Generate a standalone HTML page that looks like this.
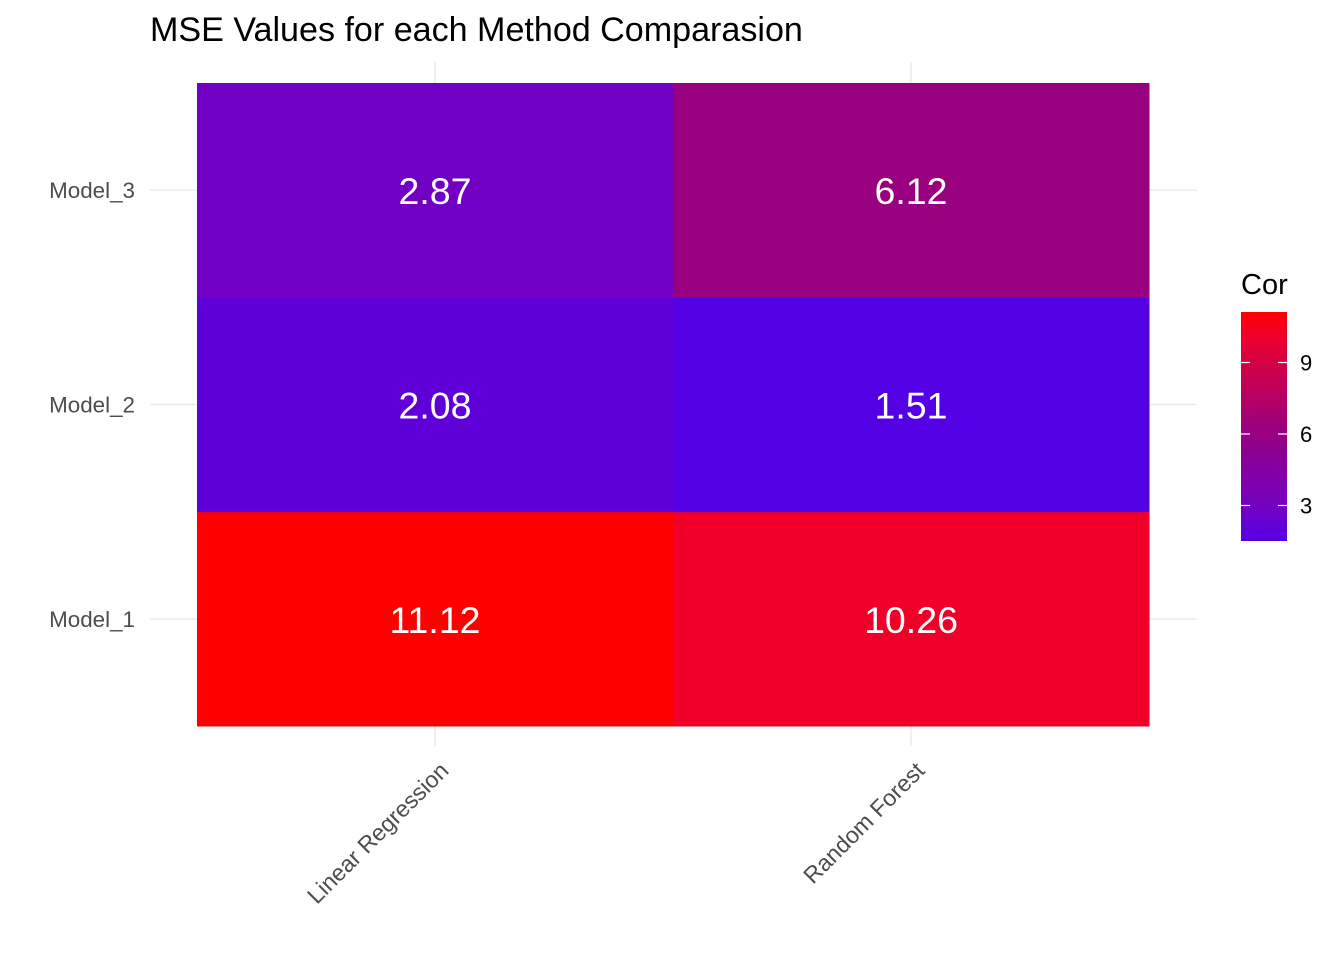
<!DOCTYPE html>
<html><head><meta charset="utf-8"><style>
body{margin:0;background:#fff;}
svg{display:block;font-family:"Liberation Sans",Arial,sans-serif;}
</style></head><body>
<svg id="chart" width="1344" height="960">
<text x="150" y="41" font-size="34.1" fill="#000">MSE Values for each Method Comparasion</text>
<g id="grid"></g><g id="cells"></g><g id="labels"></g><g id="axes"></g>
<defs><linearGradient id="cbar" x1="0" y1="1" x2="0" y2="0"></linearGradient></defs>
<g id="legend"></g>
</svg>
<script>
const methods=["Linear Regression","Random Forest"];
const models=["Model_1","Model_2","Model_3"];
const values=[[11.12,10.26],[2.08,1.51],[2.87,6.12]]; // values[model][method]
const legendTicks=[3,6,9];
const NS="http://www.w3.org/2000/svg";
function mk(tag,attrs,parent){const e=document.createElementNS(NS,tag);for(const k in attrs)e.setAttribute(k,attrs[k]);parent.appendChild(e);return e;}
const px0=197,px1=1149,py0=83,py1=726;
const cw=(px1-px0)/methods.length, ch=(py1-py0)/models.length;
const xc=i=>px0+cw*(i+0.5);
const yc=j=>py1-ch*(j+0.5);
const all=values.flat();const vmin=Math.min(...all),vmax=Math.max(...all);
// colour scale stops (normalised position -> rgb)
const scaleStops=[[0,[84,0,228]],[0.06,[96,0,216]],[0.14,[114,0,196]],[0.48,[152,0,128]],[0.91,[240,0,40]],[1,[255,0,0]]];
function col(v){const t=Math.max(0,Math.min(1,(v-vmin)/(vmax-vmin)));
 for(let k=1;k<scaleStops.length;k++){const [t0,c0]=scaleStops[k-1],[t1,c1]=scaleStops[k];
  if(t<=t1){const f=(t-t0)/(t1-t0);return `rgb(${c0.map((c,i)=>Math.round(c+(c1[i]-c)*f)).join(',')})`;}}
 return 'rgb(255,0,0)';}
const grid=document.getElementById('grid'),cells=document.getElementById('cells'),labels=document.getElementById('labels'),axes=document.getElementById('axes');
models.forEach((m,j)=>{
 const l=mk('line',{x1:150,x2:1197,y1:yc(j),y2:yc(j),stroke:'#EBEBEB','stroke-width':1.5},grid);
 
 
 const t=mk('text',{x:135,y:yc(j)+8,'text-anchor':'end','font-size':22.4,fill:'#4D4D4D'},axes);
 t.textContent=m;
 
 
});
methods.forEach((m,i)=>{
 const l=mk('line',{x1:xc(i),x2:xc(i),y1:62,y2:746,stroke:'#EBEBEB','stroke-width':1.5},grid);
 
 
 const t=mk('text',{x:xc(i)+15,y:772,'text-anchor':'end','font-size':23.2,fill:'#4D4D4D',transform:`rotate(-45 ${xc(i)+15} 772)`},axes);
 t.textContent=m;
 
 
});
models.forEach((m,j)=>methods.forEach((me,i)=>{
 const v=values[j][i];
 const r=mk('rect',{x:xc(i)-cw/2,y:yc(j)-ch/2,width:cw+0.5,height:ch+0.5,fill:col(v)},cells);
 
 
 const t=mk('text',{x:xc(i),y:yc(j)+14,'text-anchor':'middle','font-size':37.5,fill:'#fff'},labels);
 t.textContent=v.toFixed(2);
 
 
}));
// legend
const lg=document.getElementById('legend');
const lb0=541,lb1=312;
const ly=v=>lb0-(v-vmin)/(vmax-vmin)*(lb0-lb1);
const grad=document.querySelector('#cbar');
for(let k=0;k<=20;k++){const v=vmin+(vmax-vmin)*k/20;mk('stop',{offset:(k*5)+'%','stop-color':col(v)},grad);}
const lt=mk('text',{x:1241,y:294,'font-size':29,fill:'#000'},lg);
lt.textContent='Cor';


const bar=mk('rect',{x:1241,y:lb1,width:46,height:lb0-lb1,fill:'url(#cbar)'},lg);


legendTicks.forEach(v=>{
 mk('line',{x1:1241,x2:1250,y1:ly(v),y2:ly(v),stroke:'#fff','stroke-width':1.2},lg);
 mk('line',{x1:1278,x2:1287,y1:ly(v),y2:ly(v),stroke:'#fff','stroke-width':1.2},lg);
 const t=mk('text',{x:1300,y:ly(v)+8,'font-size':22,fill:'#000'},lg);
 t.textContent=v;
 
 
});
</script>
</body></html>
